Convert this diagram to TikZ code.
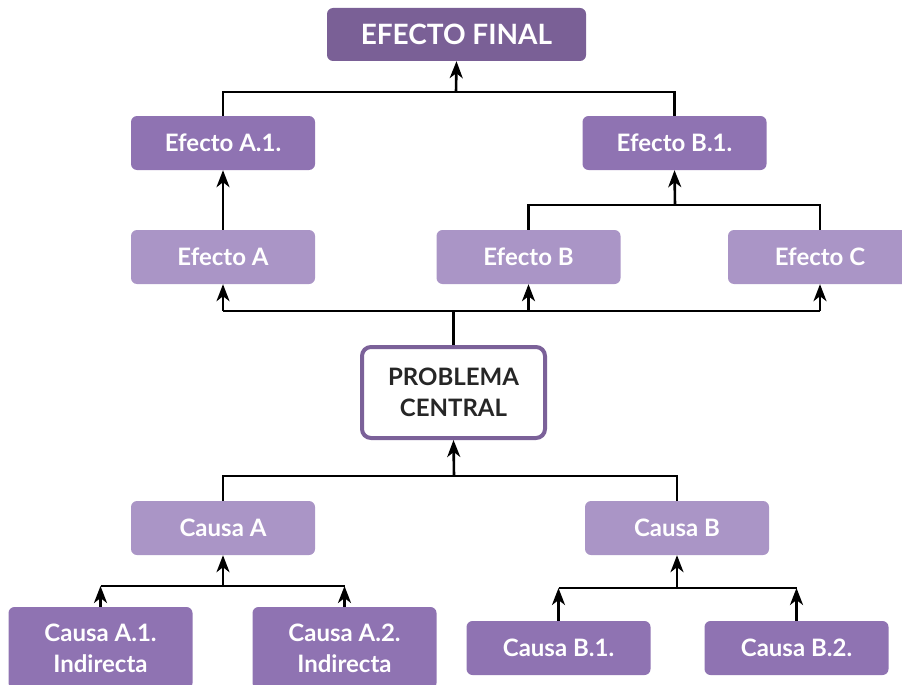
\documentclass[tikz,border=0pt]{standalone}
\usepackage{fontspec}
\setmainfont{Lato}
\usetikzlibrary{arrows.meta, positioning, calc}
\definecolor{lilaosc}{HTML}{7A6096}
\definecolor{lilamed}{HTML}{8F73B2}
\definecolor{lilacla}{HTML}{AA95C6}
\definecolor{lilaborde}{HTML}{7B6199}

\begin{document}
\begin{tikzpicture}[
  x=1pt, y=-1pt,
  caja/.style={rounded corners=6pt, align=center, minimum width=184pt,
               minimum height=54pt, inner sep=0pt, text=white,
               font=\fontsize{24}{31}\selectfont\bfseries},
  fuerte/.style={caja, fill=lilamed},
  suave/.style={caja, fill=lilacla},
  final/.style={caja, fill=lilaosc, minimum width=259pt, minimum height=53pt,
                font=\fontsize{28}{32}\selectfont\bfseries},
  centro/.style={caja, draw=lilaborde, line width=4pt, fill=white, text=black!85,
                 minimum width=183pt, minimum height=91pt, rounded corners=9pt,
                 font=\fontsize{24}{31}\selectfont\bfseries},
  linea/.style={line width=2.6pt, black},
  arr/.style={-{Stealth[length=17pt, width=13pt, inset=5pt]}, line width=2.6pt, black}
]
\useasboundingbox (0,0) rectangle (902,685);
% ----- efectos -----
\node[final]  (fin)  at (456.5,34.5) {EFECTO FINAL};
\node[fuerte] (efa1) at (223,143) {Efecto A.1.};
\node[fuerte] (efb1) at (674.5,143) {Efecto B.1.};
\node[suave]  (efa)  at (223,257) {Efecto A};
\node[suave]  (efb)  at (528.5,257) {Efecto B};
\node[suave]  (efc)  at (820,257) {Efecto C};
% ----- problema -----
\node[centro] (pc) at (453.5,392.5) {PROBLEMA\\CENTRAL};
% ----- causas -----
\node[suave]  (ca)  at (223,528) {Causa A};
\node[suave]  (cb)  at (677,528) {Causa B};
\node[fuerte, minimum height=82pt] (ca1) at (100.5,648) {Causa A.1.\\Indirecta};
\node[fuerte, minimum height=82pt] (ca2) at (344.5,648) {Causa A.2.\\Indirecta};
\node[fuerte] (cb1) at (558.5,648) {Causa B.1.};
\node[fuerte] (cb2) at (796.5,648) {Causa B.2.};
% ----- uniones -----
\coordinate (jf)  at (456,92);
\coordinate (jb1) at (675,205);
\coordinate (je)  at (453.5,311);
\coordinate (jc)  at (454,476);
\coordinate (jca) at (223,586);
\coordinate (jcb) at (677,588);
% ----- conectores superiores -----
\draw[linea] (efa1.north) |- (jf) -| (efb1.north);
\draw[arr] (jf) -- (fin.south);
\draw[arr] (efa) -- (efa1);
\draw[linea] (efb.north) |- (jb1) -| (efc.north);
\draw[arr] (jb1) -- (efb1.south);
\draw[linea] (pc.north) -- (je);
\draw[linea] (efa |- je) -- (efc |- je);
\draw[arr] (efa |- je) -- (efa.south);
\draw[arr] (efb |- je) -- (efb.south);
\draw[arr] (efc |- je) -- (efc.south);
% ----- conectores inferiores -----
\draw[linea] (ca.north) |- (jc) -| (cb.north);
\draw[arr] (jc) -- (pc.south);
\draw[linea] (ca1 |- jca) -- (ca2 |- jca);
\draw[arr] (ca1.north) -- (ca1 |- jca);
\draw[arr] (ca2.north) -- (ca2 |- jca);
\draw[arr] (jca) -- (ca.south);
\draw[linea] (cb1 |- jcb) -- (cb2 |- jcb);
\draw[arr] (cb1.north) -- (cb1 |- jcb);
\draw[arr] (cb2.north) -- (cb2 |- jcb);
\draw[arr] (jcb) -- (cb.south);
\end{tikzpicture}
\end{document}
